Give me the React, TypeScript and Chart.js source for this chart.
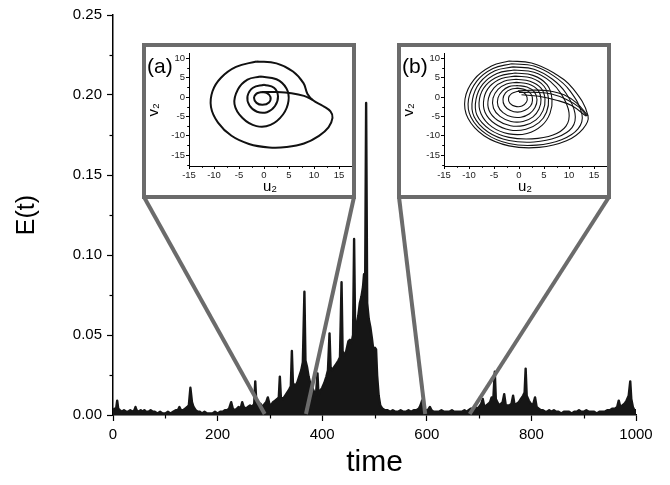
import React, { useEffect, useRef } from 'react';
import { Chart, registerables } from 'chart.js';
Chart.register(...registerables);

const FONT = "'Liberation Sans', Arial, Helvetica, sans-serif";

// ---- main series: time vs E(t) ----
const time = [
  0, 3, 6, 8, 10, 13, 17, 21, 25, 29,
  33, 37, 41, 43, 45, 49, 53, 57, 60, 63,
  68, 72, 76, 80, 85, 90, 95, 100, 105, 110,
  115, 120, 124, 127, 130, 134, 138, 142, 145, 148,
  151, 154, 158, 162, 166, 170, 175, 180, 185, 190,
  195, 200, 205, 210, 214, 218, 222, 226, 229, 233,
  237, 240, 244, 247, 250, 254, 258, 262, 266, 270,
  272, 274, 278, 282, 286, 290, 293, 296, 299, 302,
  306, 310, 314, 317, 319, 321, 325, 329, 333, 337,
  340, 342, 344, 348, 352, 356, 360, 363, 366, 368,
  371, 374, 377, 381, 385, 388, 391, 393, 396, 400,
  404, 408, 411, 414, 416, 419, 423, 427, 431, 434,
  437, 439, 442, 446, 450, 453, 456, 459, 461, 463,
  466, 469, 472, 475, 478, 480, 482, 484, 486, 489,
  492, 495, 498, 501, 503, 505, 508, 511, 515, 520,
  525, 530, 535, 540, 545, 550, 555, 560, 565, 570,
  575, 580, 585, 588, 591, 594, 598, 602, 606, 609,
  613, 618, 623, 628, 633, 638, 643, 648, 652, 657,
  662, 667, 672, 676, 680, 684, 688, 692, 696, 700,
  704, 707, 710, 714, 718, 721, 724, 727, 730, 732,
  735, 738, 742, 745, 748, 751, 755, 758, 762, 765,
  768, 772, 776, 780, 784, 787, 789, 791, 795, 799,
  803, 807, 810, 814, 818, 822, 826, 830, 834, 838,
  843, 847, 852, 857, 862, 867, 872, 877, 882, 887,
  891, 895, 900, 905, 910, 915, 920, 925, 930, 935,
  940, 945, 950, 955, 960, 964, 967, 970, 974, 978,
  982, 986, 989, 991, 994, 997, 1000,
];
const energy = [
  0.003, 0.004, 0.004, 0.009, 0.004, 0.003, 0.002, 0.003, 0.002, 0.002,
  0.003, 0.002, 0.003, 0.005, 0.003, 0.002, 0.003, 0.002, 0.003, 0.002,
  0.002, 0.003, 0.002, 0.002, 0.001, 0.002, 0.001, 0.001, 0.002, 0.001,
  0.002, 0.003, 0.003, 0.005, 0.003, 0.003, 0.004, 0.005, 0.006, 0.017,
  0.008, 0.005, 0.003, 0.002, 0.002, 0.001, 0.002, 0.001, 0.001, 0.001,
  0.002, 0.001, 0.002, 0.002, 0.003, 0.003, 0.004, 0.008, 0.004, 0.003,
  0.004, 0.005, 0.004, 0.008, 0.005, 0.004, 0.005, 0.006, 0.005, 0.007,
  0.021, 0.008, 0.006, 0.007, 0.005, 0.007, 0.008, 0.011, 0.007, 0.006,
  0.008, 0.009, 0.010, 0.011, 0.024, 0.011, 0.010, 0.012, 0.014, 0.016,
  0.018, 0.040, 0.020, 0.018, 0.020, 0.024, 0.028, 0.033, 0.077, 0.034,
  0.030, 0.024, 0.020, 0.017, 0.014, 0.012, 0.026, 0.012, 0.015, 0.017,
  0.020, 0.024, 0.028, 0.051, 0.030, 0.028, 0.030, 0.032, 0.034, 0.036,
  0.083, 0.040, 0.037, 0.040, 0.046, 0.047, 0.045, 0.050, 0.110, 0.052,
  0.056, 0.062, 0.070, 0.074, 0.080, 0.088, 0.075, 0.195, 0.070, 0.060,
  0.055, 0.048, 0.040, 0.042, 0.041, 0.025, 0.012, 0.006, 0.004, 0.003,
  0.003, 0.002, 0.003, 0.002, 0.002, 0.003, 0.002, 0.002, 0.003, 0.002,
  0.003, 0.003, 0.004, 0.006, 0.009, 0.004, 0.003, 0.003, 0.005, 0.003,
  0.002, 0.002, 0.002, 0.003, 0.002, 0.002, 0.002, 0.003, 0.002, 0.002,
  0.002, 0.002, 0.003, 0.002, 0.003, 0.004, 0.004, 0.005, 0.004, 0.005,
  0.007, 0.010, 0.005, 0.006, 0.007, 0.008, 0.011, 0.009, 0.027, 0.010,
  0.008, 0.006, 0.007, 0.008, 0.013, 0.006, 0.006, 0.006, 0.007, 0.012,
  0.006, 0.007, 0.008, 0.010, 0.012, 0.014, 0.029, 0.012, 0.009, 0.007,
  0.006, 0.011, 0.005, 0.004, 0.003, 0.003, 0.002, 0.002, 0.003, 0.002,
  0.003, 0.002, 0.002, 0.001, 0.002, 0.002, 0.002, 0.001, 0.002, 0.002,
  0.003, 0.002, 0.002, 0.003, 0.002, 0.002, 0.002, 0.001, 0.002, 0.002,
  0.002, 0.003, 0.003, 0.004, 0.004, 0.005, 0.009, 0.005, 0.006, 0.007,
  0.009, 0.012, 0.021, 0.010, 0.005, 0.003, 0.003,
];

const xTicks = [0, 100, 200, 300, 400, 500, 600, 700, 800, 900, 1000];
const xLabelStep = 200;
const yTicks = [0, 0.025, 0.05, 0.075, 0.1, 0.125, 0.15, 0.175, 0.2, 0.225, 0.25];
const yLabelStep = 0.05;

// time windows that the two insets zoom into
const zoomA = [290, 369];
const zoomB = [597, 682];

// ---- inset axes ----
const insetTicksU = [-15, -12.5, -10, -7.5, -5, -2.5, 0, 2.5, 5, 7.5, 10, 12.5, 15];
const insetTicksV = [-17.5, -15, -12.5, -10, -7.5, -5, -2.5, 0, 2.5, 5, 7.5, 10];
const insetLabelStep = 5;

// ---- inset (a): phase portrait (u2, v2) ----
const ringTinyA: number[][] = [
  [-0.5, 1.3], [0.6, 1.0], [1.3, 0.0], [1.0, -1.4], [-0.3, -2.0], [-1.5, -1.5], [-2.0, -0.2], [-1.5, 0.9], [-0.5, 1.3],
];
const ringSmallA: number[][] = [
  [0.0, 3.2], [2.0, 2.4], [2.8, 0.2], [2.2, -2.3], [0.6, -3.9], [-1.4, -3.8], [-2.9, -2.2], [-3.3, 0.2], [-2.2, 2.4], [0.0, 3.2],
];
const ringMiddleA: number[][] = [
  [-0.8, 5.3], [2.5, 4.6], [4.5, 2.2], [4.9, -1.0], [3.8, -4.5], [1.3, -7.2], [-1.5, -7.5], [-4.3, -5.4], [-5.9, -1.8], [-5.2, 2.0], [-3.3, 4.5], [-0.8, 5.3],
];
const ringOuterA: number[][] = [
  [-1.5, 9.2], [2.5, 8.7], [5.8, 6.6], [7.9, 3.6], [8.7, 0.8], [9.8, -0.8], [11.8, -2.3], [13.3, -3.7], [13.7, -5.4], [12.9, -7.8], [11.0, -10.0],
  [8.0, -12.0], [4.5, -12.9], [1.0, -13.0], [-3.0, -12.1], [-6.5, -10.0], [-9.2, -6.6], [-10.6, -2.6], [-10.3, 1.5], [-8.6, 5.0], [-5.6, 7.8], [-1.5, 9.2],
];
const tailA: number[][] = [
  [-0.5, 1.3], [2.5, 1.3], [5.5, 1.0], [8.0, 0.3], [9.8, -0.8],
];

// ---- inset (b): phase portrait (u2, v2) ----
const loopsB: number[][][] = [
  [[-2, 9.3], [2.5, 8.8], [7, 6.2], [10.8, 2.2], [13.8, -4.8], [12.8, -8.2], [9.5, -11.3], [4, -13], [-2, -12.6], [-7, -10], [-10.2, -5.5], [-10.8, -0.5], [-9, 4.5], [-5.5, 8], [-2, 9.3]],
  [[-1.5, 8.6], [3, 8], [7, 5.4], [10.2, 1.6], [12.6, -4.5], [11.8, -8.2], [8.5, -11], [3.5, -12.4], [-2, -12], [-6.6, -9.5], [-9.6, -5.2], [-10.1, -0.6], [-8.4, 4.2], [-5.2, 7.4], [-1.5, 8.6]],
  [[-1.2, 7.8], [3, 7.2], [6.7, 4.6], [9.4, 1], [11.2, -4.2], [10.6, -7.9], [7.6, -10.4], [3, -11.6], [-2, -11.2], [-6.2, -9], [-9, -5], [-9.3, -0.6], [-7.8, 3.8], [-4.8, 6.8], [-1.2, 7.8]],
  [[-1, 7], [3, 6.4], [6.3, 4], [8.6, 0.5], [10, -4], [9.4, -7.5], [6.8, -9.8], [2.6, -10.8], [-2, -10.4], [-5.8, -8.4], [-8.4, -4.7], [-8.6, -0.6], [-7.2, 3.4], [-4.4, 6.1], [-1, 7]],
  [[-0.8, 6.2], [2.8, 5.6], [5.6, 3.2], [6.6, -0.5], [6.2, -4.2], [4.6, -7.3], [1.6, -9.4], [-2, -9.5], [-5.4, -7.7], [-7.6, -4.3], [-7.9, -0.4], [-6.6, 3.1], [-4, 5.4], [-0.8, 6.2]],
  [[-0.7, 5.4], [2.5, 4.9], [5, 2.8], [5.9, -0.5], [5.5, -3.9], [4, -6.6], [1.4, -8.3], [-1.8, -8.5], [-4.8, -6.9], [-6.8, -3.9], [-7, -0.3], [-5.8, 2.8], [-3.5, 4.8], [-0.7, 5.4]],
  [[-0.6, 4.6], [2.2, 4.1], [4.4, 2.3], [5.2, -0.5], [4.8, -3.5], [3.4, -5.9], [1.1, -7.3], [-1.7, -7.4], [-4.3, -6], [-6, -3.4], [-6.1, -0.3], [-5, 2.4], [-3, 4.1], [-0.6, 4.6]],
  [[-0.5, 3.8], [1.9, 3.4], [3.8, 1.8], [4.4, -0.6], [4, -3.1], [2.8, -5.1], [0.8, -6.3], [-1.6, -6.3], [-3.8, -5], [-5.1, -2.9], [-5.2, -0.3], [-4.2, 2], [-2.5, 3.4], [-0.5, 3.8]],
  [[-0.4, 3], [1.6, 2.6], [3.1, 1.3], [3.6, -0.7], [3.2, -2.7], [2.1, -4.3], [0.4, -5.2], [-1.5, -5.1], [-3.2, -4], [-4.2, -2.3], [-4.2, -0.2], [-3.3, 1.6], [-2, 2.7], [-0.4, 3]],
  [[-0.3, 2.3], [1.3, 1.9], [2.4, 0.8], [2.7, -0.8], [2.3, -2.3], [1.2, -3.4], [-0.3, -3.9], [-1.8, -3.4], [-2.9, -2.2], [-3.2, -0.5], [-2.7, 1.1], [-1.6, 2.0], [-0.3, 2.3]],
  [[-0.2, 1.5], [1, 1.1], [1.6, 0], [1.5, -1.3], [0.6, -2.3], [-0.7, -2.4], [-1.8, -1.6], [-2.1, -0.3], [-1.5, 0.9], [-0.2, 1.5]],
  [[-0.2, 1.6], [3, 1.8], [6, 1.6], [9, 0.6], [11.5, -1.5], [13.8, -4.8]],
  [[0, 1.2], [3.5, 1.2], [6.5, 0.8], [9.5, -0.6], [12, -2.6], [13.6, -4.9]],
  [[0.5, 0.6], [4, 0.2], [7.5, -0.8], [10.5, -2.2], [13.4, -4.9]],
];

const isMult = (v: number, step: number) => Math.abs(v / step - Math.round(v / step)) < 1e-6;

function minorTickPlugin(majorX: number, majorY: number, len: number, width: number) {
  return {
    id: 'minorTicks',
    afterDraw(chart: any) {
      const { ctx, chartArea, scales } = chart;
      ctx.save();
      ctx.strokeStyle = '#000';
      ctx.lineWidth = width;
      for (const t of scales.x.ticks) {
        if (isMult(t.value, majorX)) continue;
        const px = Math.round(scales.x.getPixelForValue(t.value)) + 0.5;
        ctx.beginPath();
        ctx.moveTo(px, chartArea.bottom);
        ctx.lineTo(px, chartArea.bottom + len);
        ctx.stroke();
      }
      for (const t of scales.y.ticks) {
        if (isMult(t.value, majorY)) continue;
        const py = Math.round(scales.y.getPixelForValue(t.value)) + 0.5;
        ctx.beginPath();
        ctx.moveTo(chartArea.left - len, py);
        ctx.lineTo(chartArea.left, py);
        ctx.stroke();
      }
      ctx.restore();
    },
  };
}

// box geometry (page pixels)
const BOX_TOP = 43;
const BOX_H = 156;
const BOX_W = 214;
const BOX_A_LEFT = 142;
const BOX_B_LEFT = 397;
const BOX_BORDER = 4;
const GRAY = '#6b6b6b';

const zoomLinePlugin = {
  id: 'zoomLines',
  afterDatasetsDraw(chart: any) {
    const { ctx, scales } = chart;
    const y0 = scales.y.getPixelForValue(0);
    const yTop = BOX_TOP + BOX_H - BOX_BORDER / 2;
    const segs = [
      [BOX_A_LEFT + BOX_BORDER / 2, zoomA[0]],
      [BOX_A_LEFT + BOX_W - BOX_BORDER / 2, zoomA[1]],
      [BOX_B_LEFT + BOX_BORDER / 2, zoomB[0]],
      [BOX_B_LEFT + BOX_W - BOX_BORDER / 2, zoomB[1]],
    ];
    ctx.save();
    ctx.strokeStyle = GRAY;
    ctx.lineWidth = 4;
    for (const [xTopPx, t] of segs) {
      ctx.beginPath();
      ctx.moveTo(xTopPx, yTop);
      ctx.lineTo(scales.x.getPixelForValue(t), y0 - 1);
      ctx.stroke();
    }
    ctx.restore();
  },
};

function MainChart() {
  const ref = useRef<HTMLCanvasElement | null>(null);
  useEffect(() => {
    if (!ref.current) return;
    const points = time.map((t, i) => ({ x: t, y: energy[i] }));
    const chart = new Chart(ref.current, {
      type: 'line',
      data: {
        datasets: [
          {
            data: points,
            borderColor: '#161616',
            backgroundColor: '#161616',
            borderWidth: 2.4,
            borderJoinStyle: 'round',
            fill: 'origin',
            pointRadius: 0,
            tension: 0,
          },
        ],
      },
      options: {
        responsive: false,
        animation: false,
        events: [],
        layout: { padding: { top: 15, right: 34, left: 0, bottom: 0 } },
        plugins: { legend: { display: false }, tooltip: { enabled: false } },
        scales: {
          x: {
            type: 'linear',
            min: 0,
            max: 1000,
            afterBuildTicks: (s: any) => {
              s.ticks = xTicks.map((v) => ({ value: v }));
            },
            afterFit: (s: any) => {
              s.height = 70;
            },
            ticks: {
              autoSkip: false,
              maxRotation: 0,
              padding: 5,
              color: '#000',
              font: { family: FONT, size: 15 },
              callback: (v: any) => (isMult(Number(v), xLabelStep) ? String(v) : ''),
            },
            grid: {
              drawOnChartArea: false,
              tickLength: 6,
              tickWidth: 1.2,
              tickColor: (c: any) => (c.tick && isMult(c.tick.value, xLabelStep) ? '#000' : 'rgba(0,0,0,0)'),
            },
            border: { display: true, color: '#000', width: 1.5 },
            title: {
              display: true,
              text: 'time',
              color: '#000',
              font: { family: FONT, size: 30, lineHeight: 1.2 },
              padding: { top: 0, bottom: 4 },
            },
          },
          y: {
            type: 'linear',
            min: 0,
            max: 0.25,
            afterBuildTicks: (s: any) => {
              s.ticks = yTicks.map((v) => ({ value: v }));
            },
            afterFit: (s: any) => {
              s.width = 113;
            },
            ticks: {
              autoSkip: false,
              padding: 5,
              color: '#000',
              font: { family: FONT, size: 15 },
              callback: (v: any) => (isMult(Number(v), yLabelStep) ? Number(v).toFixed(2) : ''),
            },
            grid: {
              drawOnChartArea: false,
              tickLength: 6,
              tickWidth: 1.2,
              tickColor: (c: any) => (c.tick && isMult(c.tick.value, yLabelStep) ? '#000' : 'rgba(0,0,0,0)'),
            },
            border: { display: true, color: '#000', width: 1.5 },
            title: {
              display: true,
              text: 'E(t)',
              color: '#000',
              font: { family: FONT, size: 25, lineHeight: 1.2 },
              padding: { top: 12, bottom: 0 },
            },
          },
        },
      },
      plugins: [zoomLinePlugin, minorTickPlugin(xLabelStep, yLabelStep, 3.5, 1.2)],
    } as any);
    return () => chart.destroy();
  }, []);
  return <canvas ref={ref} width={670} height={485} style={{ display: 'block', position: 'absolute', left: 0, top: 0 }} />;
}

function Inset({ left, label, lines, lineWidth }: { left: number; label: string; lines: number[][][]; lineWidth: number }) {
  const ref = useRef<HTMLCanvasElement | null>(null);
  const innerW = BOX_W - 2 * BOX_BORDER;
  const innerH = BOX_H - 2 * BOX_BORDER;
  useEffect(() => {
    if (!ref.current) return;
    const chart = new Chart(ref.current, {
      type: 'scatter',
      data: {
        datasets: lines.map((pts) => ({
          data: pts.map(([u, v]) => ({ x: u, y: v })),
          showLine: true,
          borderColor: '#111',
          borderWidth: lineWidth,
          pointRadius: 0,
          tension: 0.4,
          fill: false,
        })),
      },
      options: {
        responsive: false,
        animation: false,
        events: [],
        layout: { padding: { top: 5, right: 1, left: 0, bottom: 0 } },
        plugins: { legend: { display: false }, tooltip: { enabled: false } },
        scales: {
          x: {
            type: 'linear',
            min: -15,
            max: 17.4,
            afterBuildTicks: (s: any) => {
              s.ticks = insetTicksU.map((v) => ({ value: v }));
            },
            afterFit: (s: any) => {
              s.height = 29;
            },
            ticks: {
              autoSkip: false,
              maxRotation: 0,
              padding: 1,
              color: '#222',
              font: { family: FONT, size: 9.5 },
              callback: (v: any) => (isMult(Number(v), insetLabelStep) ? String(v) : ''),
            },
            grid: {
              drawOnChartArea: false,
              tickLength: 3,
              tickWidth: 1,
              tickColor: (c: any) => (c.tick && isMult(c.tick.value, insetLabelStep) ? '#000' : 'rgba(0,0,0,0)'),
            },
            border: { display: true, color: '#000', width: 1 },
            title: {
              display: true,
              text: 'u₂',
              color: '#000',
              font: { family: FONT, size: 15, lineHeight: 1 },
              padding: { top: 0, bottom: 1 },
            },
          },
          y: {
            type: 'linear',
            min: -17.8,
            max: 11.2,
            afterBuildTicks: (s: any) => {
              s.ticks = insetTicksV.map((v) => ({ value: v }));
            },
            afterFit: (s: any) => {
              s.width = 43;
            },
            ticks: {
              autoSkip: false,
              padding: 1,
              color: '#222',
              font: { family: FONT, size: 9.5 },
              callback: (v: any) => (isMult(Number(v), insetLabelStep) ? String(v) : ''),
            },
            grid: {
              drawOnChartArea: false,
              tickLength: 3,
              tickWidth: 1,
              tickColor: (c: any) => (c.tick && isMult(c.tick.value, insetLabelStep) ? '#000' : 'rgba(0,0,0,0)'),
            },
            border: { display: true, color: '#000', width: 1 },
            title: {
              display: true,
              text: 'v₂',
              color: '#000',
              font: { family: FONT, size: 15, lineHeight: 1 },
              padding: { top: 0, bottom: 0 },
            },
          },
        },
      },
      plugins: [minorTickPlugin(insetLabelStep, insetLabelStep, 1.8, 1)],
    } as any);
    return () => chart.destroy();
  }, []);
  return (
    <div
      style={{
        position: 'absolute',
        left,
        top: BOX_TOP,
        width: BOX_W,
        height: BOX_H,
        boxSizing: 'border-box',
        border: `${BOX_BORDER}px solid ${GRAY}`,
        background: '#fff',
      }}
    >
      <canvas ref={ref} width={innerW} height={innerH} style={{ display: 'block', position: 'absolute', left: 0, top: 0 }} />
      <span
        style={{
          position: 'absolute',
          left: 1,
          top: 8,
          fontFamily: FONT,
          fontSize: 21,
          lineHeight: '21px',
          color: '#000',
        }}
      >
        {label}
      </span>
    </div>
  );
}

export default function App() {
  return (
    <div style={{ position: 'absolute', left: 0, top: 0, width: 670, height: 485, background: '#fff', overflow: 'hidden' }}>
      <MainChart />
      <Inset left={BOX_A_LEFT} label="(a)" lines={[ringTinyA, ringSmallA, ringMiddleA, ringOuterA, tailA]} lineWidth={2} />
      <Inset left={BOX_B_LEFT} label="(b)" lines={loopsB} lineWidth={1.1} />
    </div>
  );
}
